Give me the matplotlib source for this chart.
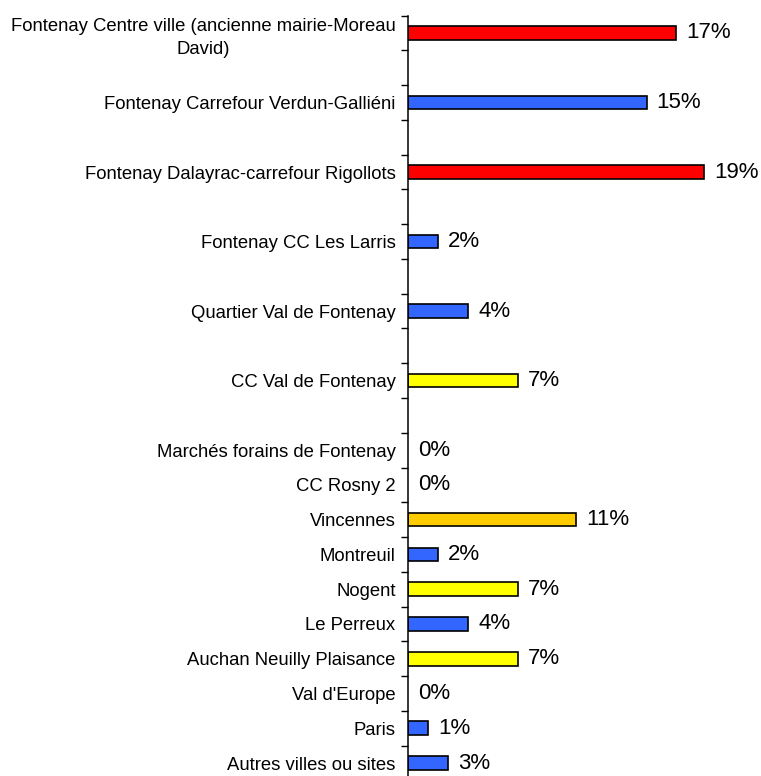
import matplotlib.pyplot as plt
import numpy as np

plt.rcParams['font.family'] = ['Liberation Sans', 'DejaVu Sans']

categories = [
    'Fontenay Centre ville (ancienne mairie-Moreau\nDavid)',
    'Fontenay Carrefour Verdun-Galliéni',
    'Fontenay Dalayrac-carrefour Rigollots',
    'Fontenay CC Les Larris',
    'Quartier Val de Fontenay',
    'CC Val de Fontenay',
    'Marchés forains de Fontenay',
    'CC Rosny 2',
    'Vincennes',
    'Montreuil',
    'Nogent',
    'Le Perreux',
    'Auchan Neuilly Plaisance',
    "Val d'Europe",
    'Paris',
    'Autres villes ou sites',
]
values = [17.2, 15.3, 19.0, 1.95, 3.88, 7.06, 0, 0, 10.8, 1.95, 7.06, 3.88, 7.06, 0, 1.31, 2.57]
colors = ['#FF0000', '#3366FF', '#FF0000', '#3366FF', '#3366FF', '#FFFF00', '#3366FF', '#3366FF',
          '#FFCC00', '#3366FF', '#FFFF00', '#3366FF', '#FFFF00', '#3366FF', '#3366FF', '#3366FF']

# the first six rows take two slots each
pos = []
y = 0
for i in range(len(categories)):
    pos.append(y)
    y += 2 if i < 6 else 1
n_slots = y

fig = plt.figure(figsize=(7.61, 7.76), dpi=100)
ax = fig.add_axes([408 / 761, -4.4 / 776, 343 / 761, 764.8 / 776])

lw = [1.2 if v > 0 else 0 for v in values]
ax.barh(pos, values, height=0.39, color=colors, edgecolor='black', linewidth=lw)

for p, v in zip(pos, values):
    ax.text(v + 0.62, p, f'{round(v)}%', va='center', ha='left', fontsize=16)

ax.set_ylim(n_slots - 0.5, -0.5)
ax.set_xlim(0, 22)
ax.set_xticks([])
ax.set_yticks(pos)
ax.set_yticklabels(categories, fontsize=13.3, multialignment='center')
ax.get_yticklabels()[0].set_linespacing(1.5)
ax.set_yticks(np.arange(-0.5, n_slots), minor=True)
ax.tick_params(axis='y', which='major', length=0, pad=9)
ax.tick_params(axis='y', which='minor', length=5, width=1.0, direction='out')

for s in ['top', 'right', 'bottom']:
    ax.spines[s].set_visible(False)
ax.spines['left'].set_linewidth(1.1)

fig.savefig('out.png', dpi=100)
